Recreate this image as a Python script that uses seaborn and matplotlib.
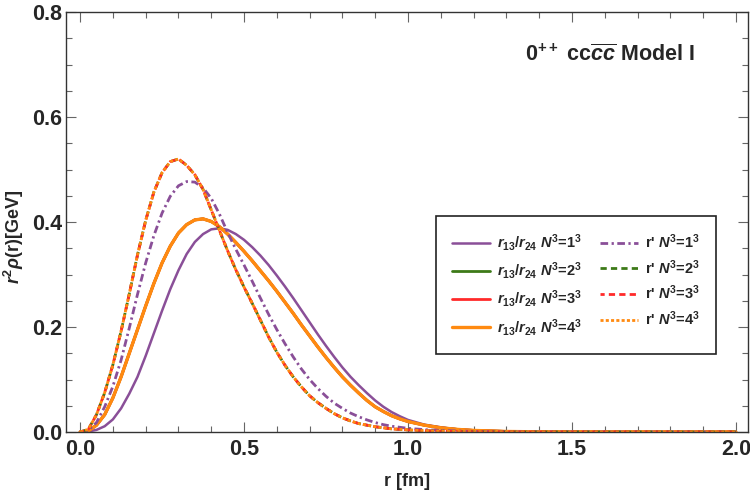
import matplotlib
matplotlib.use("Agg")
import matplotlib.pyplot as plt
from matplotlib.ticker import MultipleLocator, FormatStrFormatter
import numpy as np
import pandas as pd
import seaborn as sns

# ---------------- data ----------------
r = [0.0, 0.025, 0.05, 0.075, 0.1, 0.125, 0.15, 0.175, 0.2, 0.225, 0.25, 0.275,
     0.3, 0.325, 0.35, 0.375, 0.4, 0.425, 0.45, 0.475, 0.5, 0.525, 0.55, 0.575,
     0.6, 0.625, 0.65, 0.675, 0.7, 0.725, 0.75, 0.775, 0.8, 0.825, 0.85, 0.875,
     0.9, 0.925, 0.95, 0.975, 1.0, 1.05, 1.1, 1.15, 1.2, 1.3, 1.4, 1.5, 2.0]

# r13/r24 distributions
r13_n1 = [0.0, 0.001, 0.004, 0.011, 0.024, 0.045, 0.073, 0.105, 0.145, 0.188, 0.231, 0.272,
          0.308, 0.339, 0.362, 0.377, 0.386, 0.388, 0.385, 0.377, 0.366, 0.352, 0.336, 0.318,
          0.298, 0.277, 0.255, 0.232, 0.209, 0.186, 0.164, 0.143, 0.123, 0.105, 0.089, 0.074,
          0.06, 0.048, 0.038, 0.03, 0.023, 0.014, 0.009, 0.005, 0.003, 0.0012, 0.0004, 0.0001, 0.0]
r13_n2 = [0.0, 0.002, 0.013, 0.033, 0.065, 0.105, 0.15, 0.195, 0.24, 0.283, 0.322, 0.354,
          0.379, 0.395, 0.404, 0.406, 0.401, 0.391, 0.377, 0.361, 0.344, 0.326, 0.307, 0.288,
          0.268, 0.247, 0.226, 0.204, 0.183, 0.162, 0.142, 0.123, 0.105, 0.089, 0.074, 0.06,
          0.048, 0.039, 0.031, 0.025, 0.02, 0.013, 0.008, 0.005, 0.003, 0.001, 0.0003, 0.0001, 0.0]
r13_n3 = list(r13_n2)
r13_n4 = list(r13_n2)

# r' distributions
rp_n1 = [0.0, 0.003, 0.018, 0.048, 0.087, 0.137, 0.198, 0.262, 0.322, 0.374, 0.417, 0.449,
         0.469, 0.477, 0.476, 0.465, 0.445, 0.415, 0.38, 0.348, 0.318, 0.287, 0.255, 0.224,
         0.195, 0.168, 0.143, 0.12, 0.1, 0.083, 0.068, 0.055, 0.045, 0.036, 0.029, 0.023,
         0.018, 0.014, 0.011, 0.009, 0.007, 0.0045, 0.003, 0.002, 0.0012, 0.0005, 0.0002, 0.0001, 0.0]
rp_n2 = [0.0, 0.005, 0.033, 0.075, 0.128, 0.192, 0.263, 0.337, 0.403, 0.457, 0.494, 0.515,
         0.52, 0.508, 0.49, 0.462, 0.423, 0.384, 0.345, 0.309, 0.276, 0.245, 0.213, 0.181,
         0.152, 0.127, 0.105, 0.086, 0.069, 0.056, 0.045, 0.035, 0.027, 0.021, 0.016, 0.013,
         0.01, 0.008, 0.006, 0.005, 0.004, 0.0025, 0.0015, 0.001, 0.0006, 0.0002, 0.0001, 0.0, 0.0]
rp_n3 = list(rp_n2)
rp_n4 = list(rp_n2)

labels_r13 = [r"$r_{13}/r_{24}$ $N^3$=1$^3$", r"$r_{13}/r_{24}$ $N^3$=2$^3$",
              r"$r_{13}/r_{24}$ $N^3$=3$^3$", r"$r_{13}/r_{24}$ $N^3$=4$^3$"]
labels_rp = [r"r' $N^3$=1$^3$", r"r' $N^3$=2$^3$", r"r' $N^3$=3$^3$", r"r' $N^3$=4$^3$"]

x_ticks = [0.0, 0.5, 1.0, 1.5, 2.0]
y_ticks = [0.0, 0.2, 0.4, 0.6, 0.8]

PURPLE = "#8a4f98"
GREEN = "#3d7a18"
RED = "#ff2a2a"
ORANGE = "#ff8a10"

# ---------------- style ----------------
sns.set_theme(style="ticks")
plt.rcParams["font.family"] = ["Liberation Sans", "DejaVu Sans"]
plt.rcParams["font.weight"] = "bold"
plt.rcParams["mathtext.fontset"] = "custom"
plt.rcParams["mathtext.rm"] = "Liberation Sans:bold"
plt.rcParams["mathtext.it"] = "Liberation Sans:italic:bold"
plt.rcParams["mathtext.bf"] = "Liberation Sans:bold"
plt.rcParams["mathtext.sf"] = "Liberation Sans:bold"
plt.rcParams["lines.scale_dashes"] = False

fig = plt.figure(figsize=(7.5, 4.96), dpi=100)
ax = fig.add_axes([66 / 750, 64 / 496, 682 / 750, 420 / 496])

series = [
    (r13_n1, labels_r13[0], PURPLE, "-", 1.8),
    (r13_n2, labels_r13[1], GREEN, "-", 2.0),
    (r13_n3, labels_r13[2], RED, "-", 2.0),
    (r13_n4, labels_r13[3], ORANGE, "-", 2.4),
    (rp_n1, labels_rp[0], PURPLE, (0, (5.5, 2.5, 1.6, 2.5)), 2.0),
    (rp_n2, labels_rp[1], GREEN, (0, (4.5, 3.0)), 2.0),
    (rp_n3, labels_rp[2], RED, (1.5, (4.5, 3.0)), 2.0),
    (rp_n4, labels_rp[3], ORANGE, (0, (2.2, 1.6)), 2.0),
]

for vals, lab, col, ls, lw in series:
    df = pd.DataFrame({"r": r, "y": vals})
    sns.lineplot(data=df, x="r", y="y", ax=ax, color=col, linestyle=ls,
                 linewidth=lw, label=lab, errorbar=None, sort=False)

ax.set_xlim(-0.043, 2.037)
ax.set_ylim(0.0, 0.8)
ax.set_xticks(x_ticks)
ax.set_yticks(y_ticks)
ax.xaxis.set_minor_locator(MultipleLocator(0.1))
ax.yaxis.set_minor_locator(MultipleLocator(0.05))
ax.xaxis.set_major_formatter(FormatStrFormatter("%.1f"))
ax.yaxis.set_major_formatter(FormatStrFormatter("%.1f"))
ax.tick_params(which="both", direction="in", top=True, right=True,
               color="#666666", width=0.8)
ax.tick_params(which="major", length=7)
ax.tick_params(which="minor", length=4)
ax.tick_params(axis="x", which="major", labelsize=15.5, pad=5)
ax.tick_params(axis="y", which="major", labelsize=15.5, pad=3)
for lab in ax.get_xticklabels() + ax.get_yticklabels():
    lab.set_fontweight("bold")
for sp in ax.spines.values():
    sp.set_color("#333333")
    sp.set_linewidth(1.0)

ax.set_xlabel("r [fm]", fontsize=13, fontweight="bold")
ax.set_ylabel(r"$r^2\rho$(r)[GeV]", fontsize=13, fontweight="bold")
ax.xaxis.set_label_coords(0.5, -0.098)
ax.yaxis.set_label_coords(-0.059, 0.464)
ax.xaxis.label.set_va("top")

ax.text(0.673, 0.898, r"0$^{++}$ cc$\overline{cc}$ Model I", transform=ax.transAxes,
        fontsize=15.5, fontweight="bold", ha="left", va="center")

handles, labels = ax.get_legend_handles_labels()
leg = ax.legend(handles, labels, ncol=2, loc="upper left",
                bbox_to_anchor=(0.5425, 0.514), bbox_transform=ax.transAxes,
                fontsize=10.5, frameon=True, fancybox=False, framealpha=1.0,
                edgecolor="#222222", handlelength=2.6, handletextpad=0.5,
                columnspacing=1.2, labelspacing=0.49, borderpad=1.1,
                borderaxespad=0.0)
leg.get_frame().set_linewidth(1.2)

fig.savefig("out.png", dpi=100)
